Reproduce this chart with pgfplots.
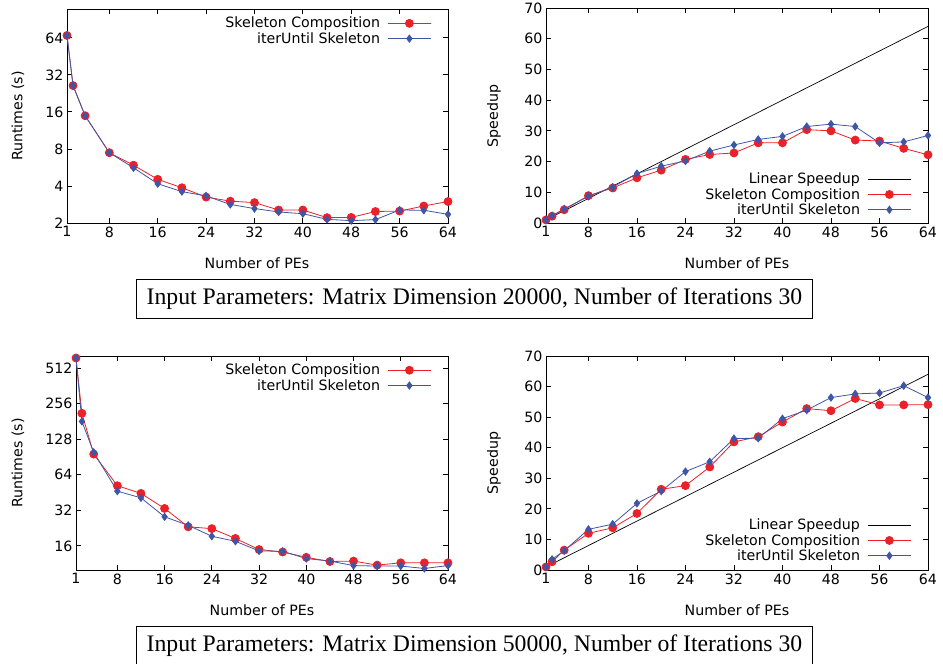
\documentclass[border=0pt]{standalone}
\usepackage{pgfplots}
\pgfplotsset{compat=1.18}
\usepackage{fontspec}
\setmainfont{DejaVu Sans}
\newfontfamily\capfont{Liberation Serif}
\definecolor{gpred}{RGB}{235,32,40}
\definecolor{gpblue}{RGB}{62,86,166}

\pgfplotstableread{
x r b
1 67 67
2 26.2 26.2
4 14.9 14.9
8 7.46 7.46
12 5.9 5.62
16 4.53 4.17
20 3.87 3.6
24 3.25 3.32
28 3.01 2.83
32 2.93 2.62
36 2.55 2.46
40 2.55 2.38
44 2.21 2.14
48 2.22 2.09
52 2.48 2.13
56 2.5 2.55
60 2.75 2.54
64 2.99 2.35
}\rtA
\pgfplotstableread{
x r b
1 1.0 1.0
2 2.2 2.4
4 4.3 4.6
8 8.9 8.7
12 11.4 11.7
16 14.7 16.1
20 17.2 18.5
24 20.7 20.2
28 22.3 23.4
32 22.8 25.4
36 26.1 27.2
40 26.1 28.2
44 30.4 31.4
48 30.0 32.2
52 27.0 31.4
56 26.7 26.1
60 24.3 26.4
64 22.2 28.5
}\spA
\pgfplotstableread{
x r b
1 623 623
2 212 181
4 95.7 99
8 51.7 46.5
12 44.5 40.8
16 33.2 28.2
20 23.2 23.9
24 22.4 19.3
28 18.5 17.5
32 14.9 14.5
36 14.2 14.4
40 12.8 12.5
44 11.8 11.9
48 11.9 10.9
52 11.0 10.8
56 11.5 10.8
60 11.5 10.3
64 11.5 10.9
}\rtB
\pgfplotstableread{
x r b
1 1.0 1.0
2 2.7 3.5
4 6.5 6.3
8 12.0 13.3
12 13.8 15.0
16 18.5 21.8
20 26.4 25.8
24 27.6 32.2
28 33.7 35.4
32 41.9 43.0
36 43.6 43.1
40 48.4 49.5
44 52.8 52.3
48 52.1 56.4
52 56.1 57.6
56 54.0 57.9
60 54.0 60.3
64 54.1 56.4
}\spB

\newcommand{\gpfont}{\fontsize{14.2}{15}\selectfont}
\pgfplotsset{
  myaxis/.style={
    scale only axis,
    anchor=south west,
    xmin=1, xmax=64,
    xtick={1,8,16,24,32,40,48,56,64},
    major tick length=5pt,
    axis line style={line width=0.9pt},
    every tick/.style={black, line width=0.9pt},
    tick label style={font=\gpfont},
    /pgf/number format/assume math mode=true,
    legend plot pos=right,
    legend cell align=right,
    legend style={draw=none, fill=none, font=\gpfont,
      row sep=0pt, column sep=6pt, inner sep=0pt, nodes={inner sep=1.5pt}},
  },
  redser/.style={color=gpred, line width=0.8pt, mark=*, mark size=4pt, mark options={solid, fill=gpred}},
  blueser/.style={color=gpblue, line width=0.8pt, mark=diamond*, mark size=3.6pt, mark options={solid, fill=gpblue}},
  legend image code/.code={
    \draw[mark repeat=2,mark phase=2,#1] plot coordinates {(0pt,0pt) (21.5pt,0pt) (43pt,0pt)};
  },
}

\begin{document}
\begin{tikzpicture}
\useasboundingbox (0pt,0pt) rectangle (943pt,664pt);
\clip (0pt,0pt) rectangle (943pt,664pt);

% top-left
\begin{axis}[myaxis, at={(67pt,441pt)}, width=381pt, height=214pt,
  ymode=log, log basis y=2, ymin=2, ymax=110,
  ytick={2,4,8,16,32,64}, yticklabels={2,4,8,16,32,64},
  yminorticks=false,
  legend style={at={(rel axis cs:1,1)}, anchor=north east, xshift=-16.5pt, yshift=-6.5pt}]
\addplot[redser] table[x=x,y=r] {\rtA};
\addlegendentry{Skeleton Composition}
\addplot[blueser] table[x=x,y=b] {\rtA};
\addlegendentry{iterUntil Skeleton}
\end{axis}

% top-right
\begin{axis}[myaxis, at={(546pt,441pt)}, width=382pt, height=215pt,
  ymin=0, ymax=70, ytick={0,10,20,30,40,50,60,70},
  legend style={at={(rel axis cs:1,0)}, anchor=south east, xshift=-16.5pt, yshift=5.4pt}]
\addplot[black, line width=0.7pt, mark=none] coordinates {(1,1) (64,64)};
\addlegendentry{Linear Speedup}
\addplot[redser] table[x=x,y=r] {\spA};
\addlegendentry{Skeleton Composition}
\addplot[blueser] table[x=x,y=b] {\spA};
\addlegendentry{iterUntil Skeleton}
\end{axis}

% bottom-left
\begin{axis}[myaxis, at={(76pt,94pt)}, width=372pt, height=214pt,
  ymode=log, log basis y=2, ymin=10, ymax=648,
  ytick={16,32,64,128,256,512}, yticklabels={16,32,64,128,256,512},
  yminorticks=false,
  legend style={at={(rel axis cs:1,1)}, anchor=north east, xshift=-16.5pt, yshift=-6.4pt}]
\addplot[redser] table[x=x,y=r] {\rtB};
\addlegendentry{Skeleton Composition}
\addplot[blueser] table[x=x,y=b] {\rtB};
\addlegendentry{iterUntil Skeleton}
\end{axis}

% bottom-right
\begin{axis}[myaxis, at={(546pt,94pt)}, width=382pt, height=214pt,
  ymin=0, ymax=70, ytick={0,10,20,30,40,50,60,70},
  legend style={at={(rel axis cs:1,0)}, anchor=south east, xshift=-16.5pt, yshift=6.4pt}]
\addplot[black, line width=0.7pt, mark=none] coordinates {(1,1) (64,64)};
\addlegendentry{Linear Speedup}
\addplot[redser] table[x=x,y=r] {\spB};
\addlegendentry{Skeleton Composition}
\addplot[blueser] table[x=x,y=b] {\spB};
\addlegendentry{iterUntil Skeleton}
\end{axis}

% axis labels
\node[rotate=90, font=\gpfont] at (18pt,548pt) {Runtimes (s)};
\node[rotate=90, font=\gpfont] at (18pt,201pt) {Runtimes (s)};
\node[rotate=90, font=\gpfont] at (494pt,548pt) {Speedup};
\node[rotate=90, font=\gpfont] at (494pt,201pt) {Speedup};
\node[font=\gpfont] at (257pt,401pt) {Number of PEs};
\node[font=\gpfont] at (737pt,401pt) {Number of PEs};
\node[font=\gpfont] at (262pt,54pt) {Number of PEs};
\node[font=\gpfont] at (737pt,54pt) {Number of PEs};

% captions
\node[draw, line width=0.9pt, minimum height=39pt, inner xsep=10pt, font=\capfont\fontsize{23.7}{26}\selectfont] at (474.5pt,365.5pt) {Input Parameters: Matrix Dimension 20000, Number of Iterations 30};
\node[draw, line width=0.9pt, minimum height=39pt, inner xsep=10pt, font=\capfont\fontsize{23.7}{26}\selectfont] at (474.5pt,18.5pt) {Input Parameters: Matrix Dimension 50000, Number of Iterations 30};
\end{tikzpicture}
\end{document}
